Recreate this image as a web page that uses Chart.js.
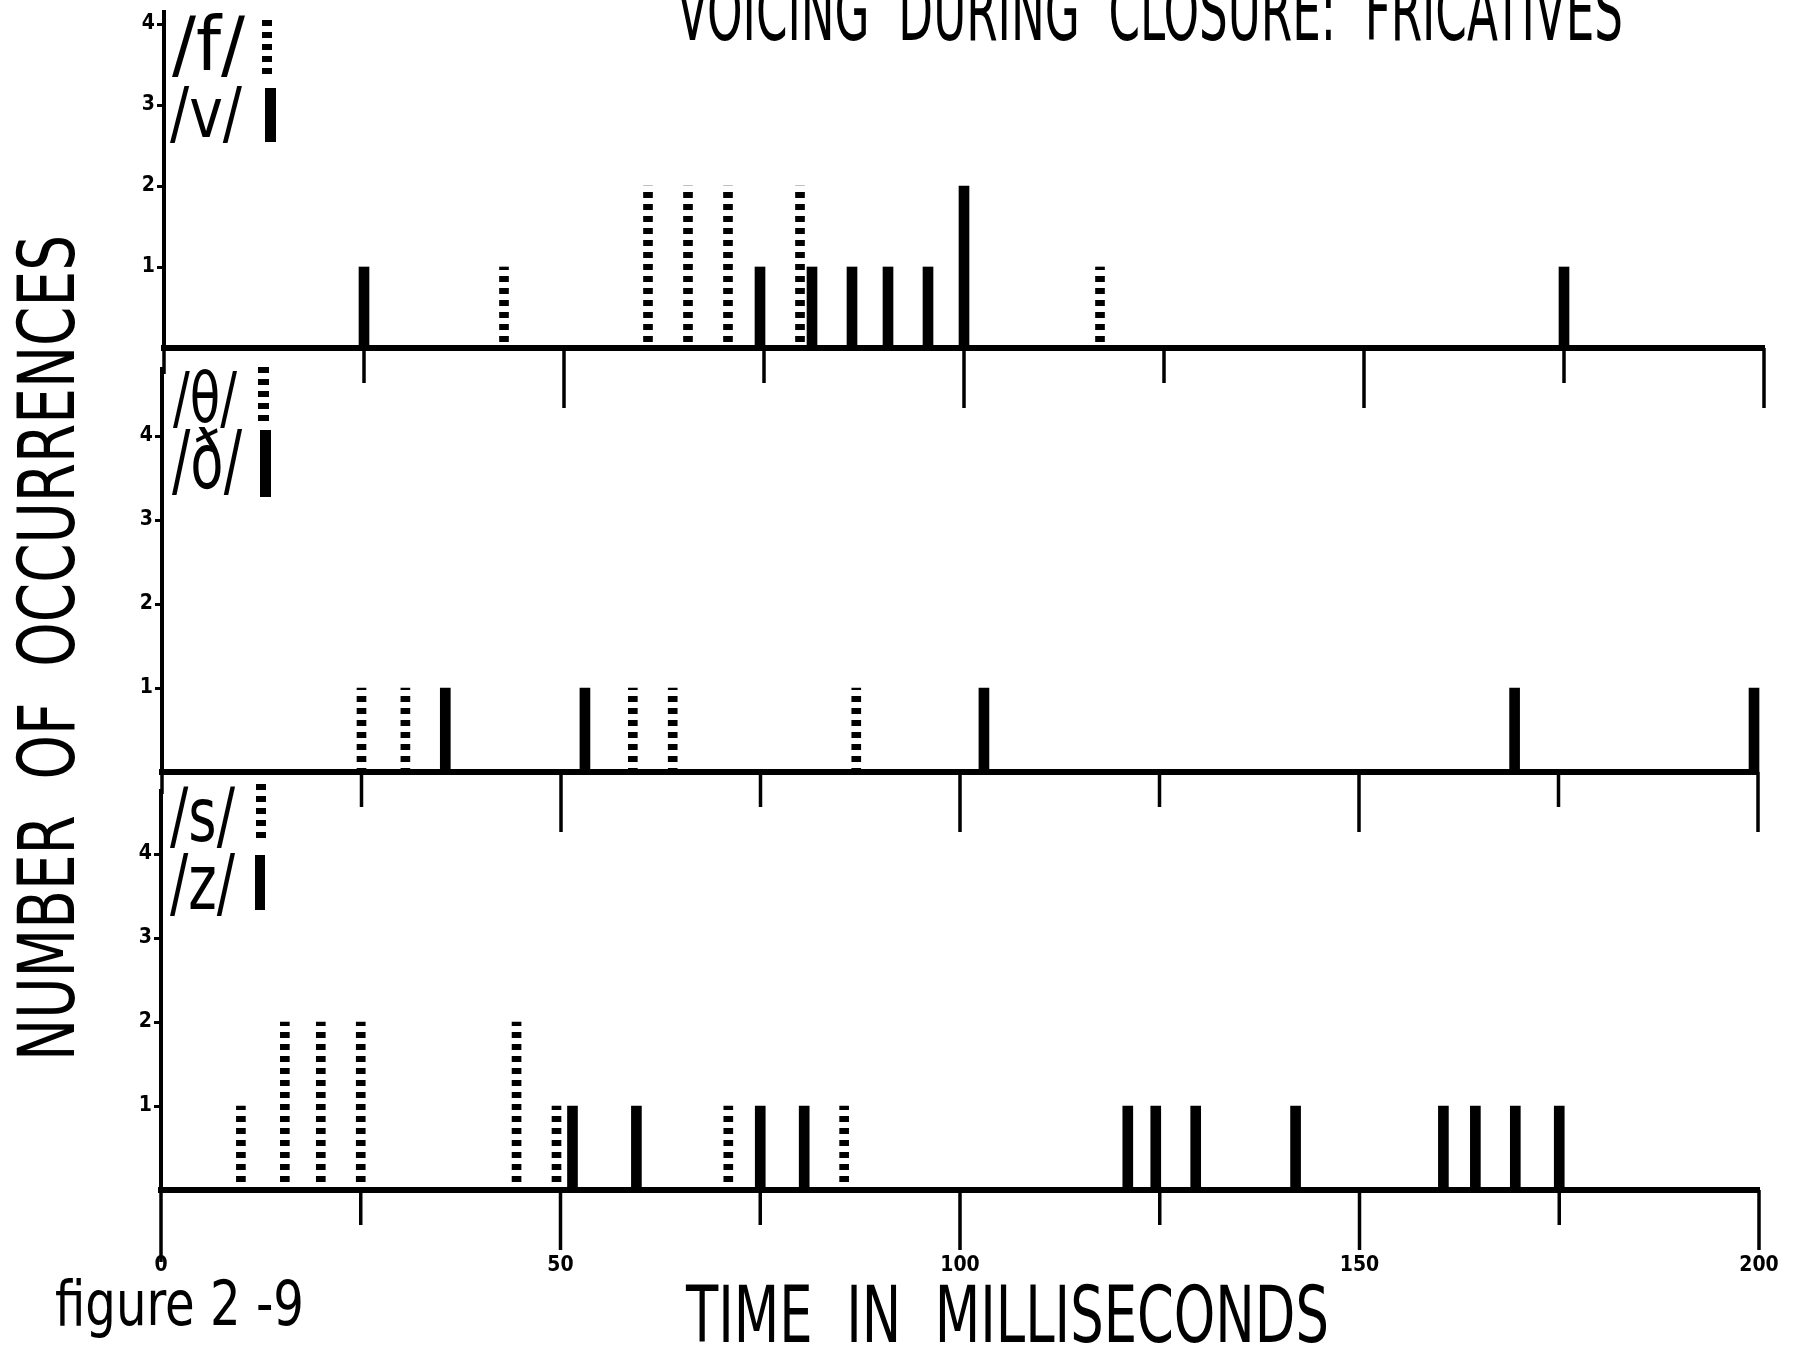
<!DOCTYPE html>
<html><head><meta charset="utf-8">
<script src="https://cdn.jsdelivr.net/npm/chart.js@4.4.1/dist/chart.umd.min.js"></script>
<style>
html,body{margin:0;padding:0;background:#fff;width:1799px;height:1350px;overflow:hidden;position:relative}
canvas{position:absolute;left:0;top:0}
.t{position:absolute;white-space:pre;color:#000;transform-origin:0 0;margin:0;padding:0}
.mk{position:absolute;background:#000}
.dot{position:absolute;background:repeating-linear-gradient(to bottom,#000 0,#000 6px,transparent 6px,transparent 12px)}
</style></head><body>
<canvas id="c1" width="1799" height="1350"></canvas>
<canvas id="c2" width="1799" height="1350"></canvas>
<canvas id="c3" width="1799" height="1350"></canvas>
<script>
const FONT = '"Liberation Sans Narrow","DejaVu Sans Condensed","Liberation Sans",sans-serif';

// ---- axes ----
const xTickValues = [0, 25, 50, 75, 100, 125, 150, 175, 200];
const xTickLabels = ['0', '', '50', '', '100', '', '150', '', '200'];
const yTickValues = [1, 2, 3, 4];

// ---- panel 1: /f/ (dotted) and /v/ (solid) ----
const fTimes  = [42.5, 60.5, 65.5, 70.5, 79.5, 117];
const fCounts = [1, 2, 2, 2, 2, 1];
const vTimes  = [25, 74.5, 81, 86, 90.5, 95.5, 100, 175];
const vCounts = [1, 1, 1, 1, 1, 1, 2, 1];

// ---- panel 2: /θ/ (dotted) and /ð/ (solid) ----
const thTimes  = [25, 30.5, 59, 64, 87];
const thCounts = [1, 1, 1, 1, 1];
const dhTimes  = [35.5, 53, 103, 169.5, 199.5];
const dhCounts = [1, 1, 1, 1, 1];

// ---- panel 3: /s/ (dotted) and /z/ (solid) ----
const sTimes  = [10, 15.5, 20, 25, 44.5, 49.5, 71, 85.5];
const sCounts = [1, 2, 2, 2, 2, 1, 1, 1];
const zTimes  = [51.5, 59.5, 75, 80.5, 121, 124.5, 129.5, 142, 160.5, 164.5, 169.5, 175];
const zCounts = [1, 1, 1, 1, 1, 1, 1, 1, 1, 1, 1, 1];

// dotted fill pattern
const tile = document.createElement('canvas');
tile.width = 1; tile.height = 12;
const tctx = tile.getContext('2d');
tctx.fillStyle = '#000'; tctx.fillRect(0, 0, 1, 6);
const dotPattern = tctx.createPattern(tile, 'repeat');

const toPoints = (ts, cs) => ts.map((t, i) => ({ x: t, y: cs[i] }));

const tickMarks = {
  id: 'tickMarks',
  afterDraw(chart, args, opts) {
    const { ctx, chartArea } = chart;
    const x = chart.scales.x;
    ctx.save();
    ctx.strokeStyle = '#000';
    ctx.lineWidth = 3.5;
    xTickValues.forEach(v => {
      const px = x.getPixelForValue(v);
      const len = v === 0 ? opts.zeroLen : (v % 50 === 0 ? opts.longLen : opts.shortLen);
      ctx.beginPath();
      ctx.moveTo(px, chartArea.bottom);
      ctx.lineTo(px, chartArea.bottom + len);
      ctx.stroke();
    });
    ctx.restore();
  }
};

const X_BOX = 110;

function makePanel(id, p) {
  return new Chart(document.getElementById(id), {
    type: 'bar',
    data: {
      datasets: [
        { label: p.dotLabel, data: toPoints(p.dotTimes, p.dotCounts), backgroundColor: dotPattern,
          barThickness: 9, grouped: false, clip: false, order: 2 },
        { label: p.solidLabel, data: toPoints(p.solidTimes, p.solidCounts), backgroundColor: '#000',
          barThickness: 10, grouped: false, clip: false, order: 1 }
      ]
    },
    options: {
      responsive: false, animation: false, devicePixelRatio: 1, events: [],
      layout: { padding: { left: 0, right: 1799 - p.right, top: p.baseline - p.ymax * p.unit, bottom: 1350 - p.baseline - X_BOX } },
      plugins: {
        legend: { display: false }, tooltip: { enabled: false },
        tickMarks: { zeroLen: p.zeroLen, longLen: 60, shortLen: 35 }
      },
      scales: {
        x: {
          type: 'linear', min: 0, max: 200, offset: false,
          afterBuildTicks: s => { s.ticks = xTickValues.map(v => ({ value: v })); },
          afterFit: s => { s.height = X_BOX; s.paddingLeft = 0; s.paddingRight = 0; },
          grid: { display: true, drawOnChartArea: false, drawTicks: false },
          border: { display: true, color: '#000', width: 6 },
          ticks: {
            display: p.showLabels, autoSkip: false, maxRotation: 0, minRotation: 0,
            padding: 63, color: '#000',
            font: { family: FONT, size: 21, weight: 'bold' },
            callback: v => xTickLabels[xTickValues.indexOf(v)]
          }
        },
        y: {
          type: 'linear', min: 0, max: p.ymax, offset: false,
          afterBuildTicks: s => { s.ticks = yTickValues.map(v => ({ value: v })); },
          afterFit: s => { s.width = p.left; s.paddingTop = 0; s.paddingBottom = 0; },
          grid: { display: true, drawOnChartArea: false, drawTicks: true, tickLength: 7, tickWidth: 3, tickColor: '#000' },
          border: { display: true, color: '#000', width: 4 },
          ticks: { padding: 2, color: '#000', font: { family: FONT, size: 21, weight: 'bold' }, callback: v => String(v) }
        }
      }
    },
    plugins: [tickMarks]
  });
}

makePanel('c1', { dotLabel: '/f/', solidLabel: '/v/', dotTimes: fTimes, dotCounts: fCounts, solidTimes: vTimes, solidCounts: vCounts,
  left: 164, right: 1764, baseline: 348, unit: 81, ymax: 4.15, zeroLen: 26, showLabels: false });
makePanel('c2', { dotLabel: '/θ/', solidLabel: '/ð/', dotTimes: thTimes, dotCounts: thCounts, solidTimes: dhTimes, solidCounts: dhCounts,
  left: 162, right: 1758, baseline: 772, unit: 84, ymax: 4.8, zeroLen: 22, showLabels: false });
makePanel('c3', { dotLabel: '/s/', solidLabel: '/z/', dotTimes: sTimes, dotCounts: sCounts, solidTimes: zTimes, solidCounts: zCounts,
  left: 161, right: 1759, baseline: 1190, unit: 84, ymax: 4.75, zeroLen: 72, showLabels: true });

// ---- text ----
function placeText(text, o) {
  const weight = o.weight || 'normal';
  const c = document.createElement('canvas').getContext('2d');
  c.font = `${weight} 100px ${FONT}`;
  const capRatio = c.measureText('H').actualBoundingBoxAscent / 100;
  const size = o.h / capRatio;
  c.font = `${weight} ${size}px ${FONT}`;
  const m = c.measureText(text);
  const asc = m.fontBoundingBoxAscent, desc = m.fontBoundingBoxDescent;
  const sx = o.w / m.width;
  const el = document.createElement('div');
  el.className = 't';
  el.textContent = text;
  el.style.font = `${weight} ${size}px ${FONT}`;
  el.style.lineHeight = (asc + desc) + 'px';
  el.style.height = (asc + desc) + 'px';
  if (o.rot) {
    el.style.left = (o.x - (asc - o.h)) + 'px';
    el.style.top = o.y + 'px';
    el.style.transform = `rotate(-90deg) scaleX(${sx})`;
  } else {
    el.style.left = o.x + 'px';
    el.style.top = (o.y - (asc - o.h)) + 'px';
    el.style.transform = `scaleX(${sx})`;
  }
  document.body.appendChild(el);
}
function mark(cls, x, y, w, h) {
  const d = document.createElement('div');
  d.className = cls;
  d.style.left = x + 'px'; d.style.top = y + 'px'; d.style.width = w + 'px'; d.style.height = h + 'px';
  document.body.appendChild(d);
}

placeText('VOICING  DURING  CLOSURE:  FRICATIVES', { x: 677, y: -20, h: 60, w: 946 });
placeText('TIME  IN  MILLISECONDS', { x: 686, y: 1285, h: 57, w: 643 });
placeText('NUMBER  OF  OCCURRENCES', { x: 17, y: 1061, h: 57, w: 826, rot: true });
placeText('figure 2 -9', { x: 55, y: 1280, h: 45, w: 249 });

// legends
placeText('/f/', { x: 172, y: 15, h: 55, w: 73 });
mark('dot', 262, 20, 10, 54);
placeText('/v/', { x: 170, y: 86, h: 51, w: 72 });
mark('mk', 265, 88, 11, 54);

placeText('/θ/', { x: 173, y: 371, h: 51, w: 64 });
mark('dot', 258, 367, 11, 56);
placeText('/ð/', { x: 172, y: 430, h: 58, w: 70 });
mark('mk', 260, 430, 11, 67);

placeText('/s/', { x: 170, y: 787, h: 54, w: 65 });
mark('dot', 256, 784, 10, 59);
placeText('/z/', { x: 170, y: 853, h: 56, w: 65 });
mark('mk', 255, 855, 10, 55);
</script>
</body></html>
